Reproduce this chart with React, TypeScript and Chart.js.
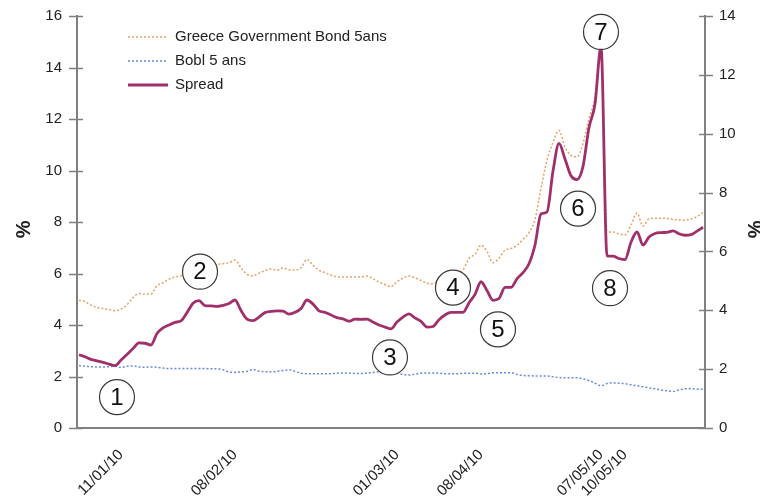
import React, { useEffect, useRef } from 'react';
import { Chart, registerables } from 'chart.js';

Chart.register(...registerables);

const FONT = "'Liberation Sans', Arial, sans-serif";
const TEXT = '#222222';
const AXIS = '#808080';

// Series values (one point per trading day index)
const greece = [4.96,4.91,4.77,4.68,4.64,4.60,4.55,4.62,4.79,5.06, 5.22,5.20,5.20,5.53,5.64,5.78,5.86,5.91,5.99,6.07, 6.14,6.21,6.28,6.35,6.38,6.42,6.52,6.22,5.97,5.91, 6.01,6.11,6.17,6.13,6.22,6.14,6.14,6.22,6.55,6.32, 6.13,6.03,5.94,5.87,5.86,5.86,5.86,5.87,5.90,5.80, 5.67,5.57,5.49,5.68,5.82,5.90,5.83,5.73,5.62,5.60, 5.74,5.85,5.91,5.99,6.14,6.58,6.75,7.10,6.86,6.42, 6.59,6.91,6.97,7.09,7.32,7.59,8.10,9.31,10.40,11.09, 11.56,10.90,10.59,10.53,11.05,12.02,12.87,14.90,7.65,7.61, 7.54,7.50,7.88,8.35,7.84,8.12,8.15,8.15,8.14,8.10, 8.08,8.07,8.12,8.21,8.37];
const bobl = [2.42,2.40,2.38,2.37,2.37,2.38,2.40,2.35,2.40,2.41, 2.37,2.36,2.37,2.36,2.33,2.31,2.31,2.31,2.31,2.31, 2.31,2.31,2.30,2.30,2.26,2.18,2.16,2.18,2.20,2.27, 2.21,2.19,2.18,2.20,2.23,2.26,2.20,2.13,2.11,2.11, 2.11,2.11,2.11,2.13,2.14,2.13,2.12,2.12,2.13,2.16, 2.18,2.18,2.19,2.13,2.08,2.06,2.09,2.13,2.14,2.14, 2.13,2.11,2.11,2.11,2.12,2.13,2.13,2.10,2.11,2.15, 2.15,2.15,2.15,2.08,2.04,2.03,2.02,2.02,2.02,1.99, 1.96,1.95,1.95,1.95,1.91,1.84,1.74,1.64,1.73,1.75, 1.74,1.72,1.68,1.64,1.60,1.56,1.52,1.48,1.45,1.42, 1.48,1.52,1.53,1.51,1.50];
const spread = [2.49,2.42,2.33,2.28,2.23,2.17,2.12,2.31,2.50,2.70, 2.89,2.88,2.82,3.21,3.40,3.50,3.59,3.64,3.92,4.24, 4.33,4.16,4.15,4.13,4.17,4.23,4.35,3.99,3.70,3.65, 3.77,3.92,3.96,3.98,3.97,3.87,3.93,4.06,4.35,4.21, 3.98,3.93,3.84,3.75,3.71,3.63,3.70,3.69,3.70,3.60, 3.50,3.43,3.37,3.60,3.77,3.88,3.74,3.62,3.43,3.45, 3.68,3.84,3.93,3.93,3.93,4.25,4.54,4.97,4.67,4.34, 4.40,4.78,4.78,5.07,5.28,5.58,6.22,7.27,7.34,8.73, 9.67,9.14,8.57,8.44,8.89,10.21,11.01,12.95,5.85,5.84, 5.76,5.72,6.31,6.66,6.22,6.49,6.61,6.64,6.65,6.70, 6.60,6.55,6.57,6.69,6.82];

// Date tick labels and the day index they sit on
const tickIndex = [7, 26, 53, 67, 87, 91];
const tickLabels = ['11/01/10', '08/02/10', '01/03/10', '08/04/10', '07/05/10', '10/05/10'];

// Numbered event markers (x: day index, y: left-axis value)
const noteLabels = ['1', '2', '3', '4', '5', '6', '7', '8'];
const noteX = [6.33, 20.17, 51.83, 62.33, 69.83, 83.17, 87.0, 88.5];
const noteY = [1.2, 6.07, 2.74, 5.45, 3.83, 8.52, 15.38, 5.43];

const seriesNames = ['Greece Government Bond 5ans', 'Bobl 5 ans', 'Spread'];
const COL_GREECE = '#E9A063';
const COL_BOBL = '#6C89DC';
const COL_SPREAD = '#A0306B';

const toXY = (arr: number[]) => arr.map((v, i) => ({ x: i, y: v }));

const decorPlugin = {
  id: 'decor',
  afterDatasetsDraw(chart: any) {
    const { ctx, chartArea: ca, scales } = chart;
    const xs = scales.x, ys = scales.y, y1s = scales.y1;
    ctx.save();
    ctx.strokeStyle = AXIS;
    ctx.lineWidth = 1.5;
    ys.ticks.forEach((t: any) => {
      const p = Math.round(ys.getPixelForValue(t.value)) + 0.5;
      ctx.beginPath(); ctx.moveTo(ca.left - 8, p); ctx.lineTo(ca.left + 6, p); ctx.stroke();
    });
    y1s.ticks.forEach((t: any) => {
      const p = Math.round(y1s.getPixelForValue(t.value)) + 0.5;
      ctx.beginPath(); ctx.moveTo(ca.right - 6, p); ctx.lineTo(ca.right + 8, p); ctx.stroke();
    });

    noteLabels.forEach((lab, i) => {
      const px = xs.getPixelForValue(noteX[i]);
      const py = ys.getPixelForValue(noteY[i]);
      ctx.beginPath();
      ctx.arc(px, py, 17.5, 0, Math.PI * 2);
      ctx.fillStyle = '#ffffff';
      ctx.fill();
      ctx.lineWidth = 1.2;
      ctx.strokeStyle = '#3a3a3a';
      ctx.stroke();
      ctx.fillStyle = '#111111';
      ctx.font = `24px ${FONT}`;
      ctx.textAlign = 'center';
      ctx.textBaseline = 'middle';
      ctx.fillText(lab, px, py + 1);
    });

    const styles = [
      { c: COL_GREECE, d: [2, 2], w: 1.5 },
      { c: COL_BOBL, d: [2, 2], w: 1.5 },
      { c: COL_SPREAD, d: [] as number[], w: 2.8 },
    ];
    seriesNames.forEach((name, i) => {
      const ly = ca.top + 21 + i * 24;
      ctx.beginPath();
      ctx.setLineDash(styles[i].d);
      ctx.strokeStyle = styles[i].c;
      ctx.lineWidth = styles[i].w;
      ctx.moveTo(ca.left + 51, ly);
      ctx.lineTo(ca.left + 91, ly);
      ctx.stroke();
      ctx.setLineDash([]);
      ctx.fillStyle = TEXT;
      ctx.font = `15px ${FONT}`;
      ctx.textAlign = 'left';
      ctx.textBaseline = 'middle';
      ctx.fillText(name, ca.left + 98, ly);
    });
    ctx.restore();
  },
};

const titlePlugin = {
  id: 'titles',
  afterDraw(chart: any) {
    const { ctx, chartArea: ca } = chart;
    ctx.save();
    ctx.font = `bold 20px ${FONT}`;
    ctx.fillStyle = TEXT;
    ctx.textAlign = 'center';
    ctx.textBaseline = 'middle';
    const my = ca.top + (ca.bottom - ca.top) * 0.518;
    ctx.translate(24, my); ctx.rotate(-Math.PI / 2); ctx.fillText('%', 0, 0);
    ctx.setTransform(1, 0, 0, 1, 0, 0);
    ctx.translate(756, my); ctx.rotate(-Math.PI / 2); ctx.fillText('%', 0, 0);
    ctx.restore();
  },
};

export default function App() {
  const ref = useRef<HTMLCanvasElement>(null);
  useEffect(() => {
    const chart = new Chart(ref.current as HTMLCanvasElement, {
      type: 'line',
      data: {
        datasets: [
          { label: seriesNames[0], data: toXY(greece), yAxisID: 'y', borderColor: COL_GREECE, borderDash: [2, 2], borderWidth: 1.5, pointRadius: 0, cubicInterpolationMode: 'monotone' },
          { label: seriesNames[1], data: toXY(bobl), yAxisID: 'y', borderColor: COL_BOBL, borderDash: [2, 2], borderWidth: 1.5, pointRadius: 0, cubicInterpolationMode: 'monotone' },
          { label: seriesNames[2], data: toXY(spread), yAxisID: 'y1', borderColor: COL_SPREAD, borderWidth: 2.8, pointRadius: 0, cubicInterpolationMode: 'monotone', order: -1 },
        ],
      },
      options: {
        responsive: false,
        animation: false,
        devicePixelRatio: 1,
        layout: { padding: { top: 14, left: 0, right: 0, bottom: 0 } },
        plugins: { legend: { display: false }, tooltip: { enabled: false } },
        scales: {
          x: {
            type: 'linear',
            min: -1 / 3,
            max: 104 + 1 / 3,
            afterBuildTicks: (s: any) => { s.ticks = tickIndex.map((v) => ({ value: v })); },
            afterFit: (s: any) => { s.height = 72; },
            ticks: {
              autoSkip: false, maxRotation: 45, minRotation: 45, padding: 12,
              color: TEXT, font: { family: FONT, size: 15 },
              callback: (_v: any, i: number) => tickLabels[i],
            },
            grid: { display: true, drawOnChartArea: false, drawTicks: true, tickLength: 6, color: 'rgba(0,0,0,0)' },
            border: { display: true, color: AXIS, width: 2 },
          },
          y: {
            position: 'left', min: 0, max: 16,
            afterFit: (s: any) => { s.width = 77; },
            ticks: { stepSize: 2, padding: 7, color: TEXT, font: { family: FONT, size: 15 } },
            grid: { display: true, drawOnChartArea: false, drawTicks: true, tickLength: 8, color: 'rgba(0,0,0,0)' },
            border: { display: true, color: AXIS, width: 2 },
          },
          y1: {
            position: 'right', min: 0, max: 14,
            afterFit: (s: any) => { s.width = 55; },
            ticks: { stepSize: 2, padding: 6, color: TEXT, font: { family: FONT, size: 15 } },
            grid: { display: true, drawOnChartArea: false, drawTicks: true, tickLength: 8, color: 'rgba(0,0,0,0)' },
            border: { display: true, color: AXIS, width: 2 },
          },
        },
      } as any,
      plugins: [decorPlugin, titlePlugin],
    });
    return () => chart.destroy();
  }, []);
  return (
    <div style={{ position: 'fixed', left: 0, top: 0, width: 760, height: 500, background: '#ffffff' }}>
      <canvas ref={ref} width={760} height={500} style={{ display: 'block' }} />
    </div>
  );
}
